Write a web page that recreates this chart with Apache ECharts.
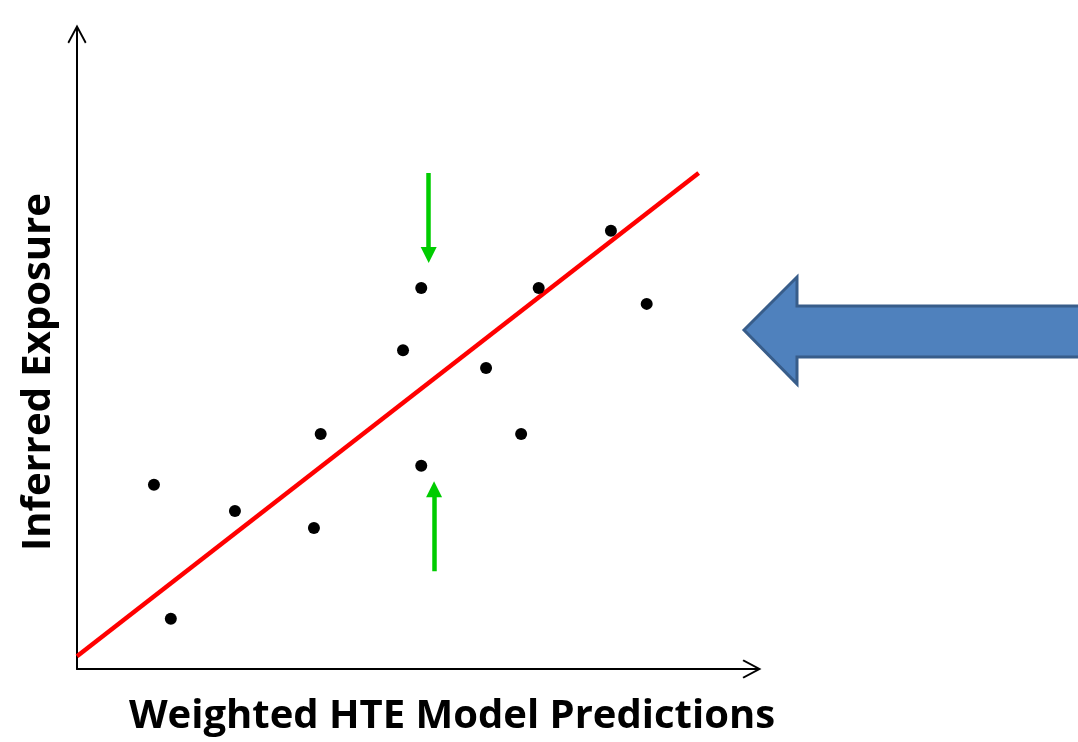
<!DOCTYPE html>
<html>
<head>
<meta charset="utf-8">
<script src="https://cdn.jsdelivr.net/npm/echarts@6/dist/echarts.min.js"></script>
<style>
	html, body { margin: 0; padding: 0; background: #fff; }
	#main { width: 1078px; height: 742px; }
</style>
</head>
<body>
<div id="main"></div>
<script>
	// scatter points (model prediction, inferred exposure)
	var pointsX = [1.14, 1.39, 2.34, 3.51, 3.61, 4.83, 5.10, 5.10, 6.06, 6.58, 6.84, 7.91, 8.44];
	var pointsY = [2.90, 0.79, 2.49, 2.22, 3.70, 5.02, 6.00, 3.20, 4.74, 3.70, 6.00, 6.90, 5.75];
	// fitted line end points
	var fitX = [0, 9.21];
	var fitY = [0.20, 7.81];
	// green arrows: [x, yFrom, yTo]
	var arrowDown = [5.21, 7.81, 6.52];
	var arrowUp = [5.29, 1.54, 2.83];

	var chevron = 'path://M50,0 L100,94 L92,100 L50,21 L8,100 L0,94 Z M45,12 L55,12 L55,100 L45,100 Z';
	var titleFont = '"Open Sans", "DejaVu Sans", sans-serif';

	var scatterData = pointsX.map(function(x, i){
		return [x, pointsY[i]];
	});
	var fitData = fitX.map(function(x, i){
		return [x, fitY[i]];
	});

	var myChart = echarts.init(document.getElementById('main'));
	myChart.setOption({
		backgroundColor: '#ffffff',
		animation: false,
		grid: { left: 77, right: 326, top: 34, bottom: 73 },
		xAxis: {
			type: 'value',
			min: 0,
			max: 10,
			name: 'Weighted HTE Model Predictions',
			nameLocation: 'middle',
			nameGap: 28,
			nameTextStyle: {
				fontFamily: titleFont,
				fontWeight: 'bold',
				fontSize: 40,
				color: '#000',
				padding: [0, 0, 0, 75]
			},
			axisLine: {
				show: true,
				onZero: false,
				symbol: ['none', chevron],
				symbolSize: [20, 19],
				lineStyle: { color: '#000', width: 2 }
			},
			axisTick: { show: false },
			axisLabel: { show: false },
			splitLine: { show: false }
		},
		yAxis: {
			type: 'value',
			min: 0,
			max: 10,
			name: 'Inferred Exposure',
			nameLocation: 'middle',
			nameGap: 18,
			nameTextStyle: {
				fontFamily: titleFont,
				fontWeight: 'bold',
				fontSize: 40,
				color: '#000',
				padding: [0, 41, 0, 0]
			},
			axisLine: {
				show: true,
				onZero: false,
				symbol: ['none', chevron],
				symbolSize: [20, 19],
				lineStyle: { color: '#000', width: 2 }
			},
			axisTick: { show: false },
			axisLabel: { show: false },
			splitLine: { show: false }
		},
		series: [
			{
				type: 'line',
				data: fitData,
				symbol: 'none',
				lineStyle: { color: '#ff0000', width: 4.5 },
				z: 2
			},
			{
				type: 'scatter',
				data: scatterData,
				symbol: 'circle',
				symbolSize: 12,
				itemStyle: { color: '#000000', opacity: 1 },
				z: 3
			},
			{
				type: 'lines',
				coordinateSystem: 'cartesian2d',
				polyline: false,
				symbol: ['none', 'triangle'],
				symbolSize: [17, 16],
				lineStyle: { color: '#00cc00', width: 4.5, opacity: 1, curveness: 0 },
				data: [
					{ coords: [[arrowDown[0], arrowDown[1]], [arrowDown[0], arrowDown[2]]] },
					{ coords: [[arrowUp[0], arrowUp[1]], [arrowUp[0], arrowUp[2]]] }
				],
				z: 4
			}
		],
		graphic: [
			{
				type: 'polygon',
				shape: {
					points: [[744, 330], [797, 277], [797, 306], [1090, 306], [1090, 357], [797, 357], [797, 384]]
				},
				style: { fill: '#4f81bd', stroke: '#385d8a', lineWidth: 3 }
			}
		]
	});
</script>
</body>
</html>
